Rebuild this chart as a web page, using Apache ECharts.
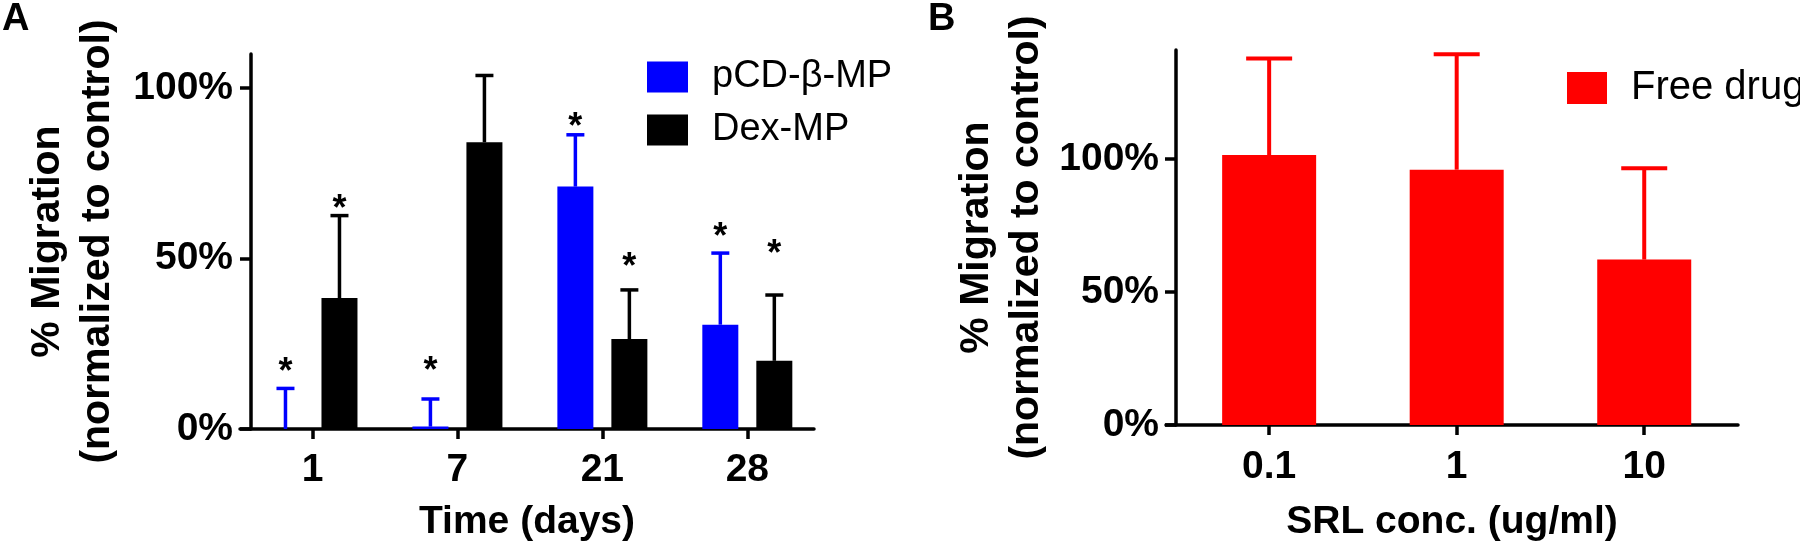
<!DOCTYPE html>
<html>
<head>
<meta charset="utf-8">
<script src="https://cdn.jsdelivr.net/npm/echarts@6/dist/echarts.min.js"></script>
<style>
html,body{margin:0;padding:0;background:#fff;}
#c{width:1800px;height:547px;}
</style>
</head>
<body>
<div id="c"></div>
<script>
// ---------- data ----------
const categoriesA = ['1', '7', '21', '28'];
const namePcd = 'pCD-β-MP';
const nameDex = 'Dex-MP';
const pcdMean = [0, 0.7, 71.1, 30.6];
const pcdErr = [11.9, 8.1, 15.2, 21.0];
const dexMean = [38.4, 84.1, 26.4, 20.0];
const dexErr = [24.2, 19.6, 14.4, 19.3];
const pcdStar = [18.8, 19.1, 90.7, 58.4];
const dexStar = [66.5, null, 49.6, 53.4];
const yTicksA = [0, 50, 100];

const categoriesB = ['0.1', '1', '10'];
const nameFree = 'Free drug';
const freeMean = [101.5, 96.0, 62.2];
const freeErr = [36.3, 43.4, 34.3];
const yTicksB = [0, 50, 100];

// ---------- styling ----------
const FONT = '"Liberation Sans", Arial, Helvetica, sans-serif';
const BAR_A = 36, GAP_A = 18;
const OFF_A = (BAR_A + GAP_A) / 2;
const BAR_B = 94;
const STAR_FS = 36;

function errRender(offsetPx, capW, lw, color) {
  return function (params, api) {
    const x = api.value(0), lo = api.value(1), hi = api.value(2);
    const p0 = api.coord([x, lo]);
    const p1 = api.coord([x, hi]);
    const cx = p0[0] + offsetPx;
    return {
      type: 'group',
      children: [
        { type: 'line', shape: { x1: cx, y1: p0[1], x2: cx, y2: p1[1] }, style: { stroke: color, lineWidth: lw } },
        { type: 'line', shape: { x1: cx - capW / 2, y1: p1[1], x2: cx + capW / 2, y2: p1[1] }, style: { stroke: color, lineWidth: lw } }
      ]
    };
  };
}
function starRender(offsetPx, fs) {
  return function (params, api) {
    const p = api.coord([api.value(0), api.value(1)]);
    return {
      type: 'text',
      x: p[0] + offsetPx,
      y: p[1] + fs * 0.22,
      style: {
        text: '*', fill: '#000', fontSize: fs, fontFamily: FONT, fontWeight: 'bold',
        align: 'center', verticalAlign: 'middle',
        textAlign: 'center', textVerticalAlign: 'middle'
      }
    };
  };
}

const errDataPcd = pcdMean.map((m, i) => [i, m, m + pcdErr[i]]);
const errDataDex = dexMean.map((m, i) => [i, m, m + dexErr[i]]);
const errDataFree = freeMean.map((m, i) => [i, m, m + freeErr[i]]);
const starDataPcd = pcdStar.map((s, i) => [i, s]).filter(d => d[1] != null);
const starDataDex = dexStar.map((s, i) => [i, s]).filter(d => d[1] != null);

const axisLineStyle = { color: '#000', width: 3.5 };
const tickLabel = { color: '#000', fontSize: 39, fontWeight: 'bold', fontFamily: FONT };
const axisTitle = { color: '#000', fontSize: 39, fontWeight: 'bold', fontFamily: FONT };
const yTitle = { color: '#000', fontSize: 41, fontWeight: 'bold', fontFamily: FONT, lineHeight: 50 };
const panelLetter = { fontSize: 38, fontWeight: 'bold', fontFamily: FONT, color: '#000' };

const chart = echarts.init(document.getElementById('c'), null, { renderer: 'canvas' });
chart.setOption({
  animation: false,
  backgroundColor: '#fff',
  title: [
    { text: 'A', left: 2, top: 1, padding: 0, textStyle: panelLetter },
    { text: 'B', left: 928, top: 1, padding: 0, textStyle: panelLetter }
  ],
  legend: [
    {
      data: [namePcd, nameDex], orient: 'vertical', left: 647, top: 58, padding: 0,
      itemWidth: 41, itemHeight: 31, itemGap: 15, icon: 'rect',
      textStyle: { fontSize: 38, fontFamily: FONT, color: '#000', lineHeight: 38, padding: [0, 0, 0, 19] }
    },
    {
      data: [nameFree], orient: 'vertical', left: 1567, top: 68, padding: 0,
      itemWidth: 40, itemHeight: 32, icon: 'rect',
      textStyle: { fontSize: 40, fontFamily: FONT, color: '#000', lineHeight: 40, padding: [0, 0, 0, 19] }
    }
  ],
  grid: [
    { left: 240, top: 54, width: 574, height: 376 },
    { left: 1166, top: 50, width: 572, height: 377 }
  ],
  xAxis: [
    {
      gridIndex: 0, type: 'value', min: -0.5, max: 3.46,
      splitLine: { show: false },
      axisLine: { show: true, onZero: false, lineStyle: axisLineStyle },
      axisTick: { show: true, length: 10, lineStyle: { color: '#000', width: 3.5 }, customValues: [0, 1, 2, 3] },
      axisLabel: Object.assign({ margin: 22, customValues: [0, 1, 2, 3], formatter: v => categoriesA[Math.round(v)] }, tickLabel),
      name: 'Time (days)', nameLocation: 'middle', nameGap: 74, nameTextStyle: axisTitle
    },
    {
      gridIndex: 1, type: 'value', min: -0.55, max: 2.5,
      splitLine: { show: false },
      axisLine: { show: true, onZero: false, lineStyle: axisLineStyle },
      axisTick: { show: true, length: 10, lineStyle: { color: '#000', width: 3.5 }, customValues: [0, 1, 2] },
      axisLabel: Object.assign({ margin: 23, customValues: [0, 1, 2], formatter: v => categoriesB[Math.round(v)] }, tickLabel),
      name: 'SRL conc. (ug/ml)', nameLocation: 'middle', nameGap: 78, nameTextStyle: axisTitle
    }
  ],
  yAxis: [
    {
      gridIndex: 0, type: 'value', min: 0, max: 110, offset: -11,
      splitLine: { show: false },
      axisLine: { show: true, onZero: false, lineStyle: axisLineStyle },
      axisTick: { show: true, length: 11, lineStyle: { color: '#000', width: 3.5 }, customValues: yTicksA },
      axisLabel: Object.assign({ margin: 18, customValues: yTicksA, formatter: v => v + '%' }, tickLabel),
      name: '% Migration\n(normalized to control)', nameLocation: 'middle', nameGap: 128, nameTextStyle: yTitle
    },
    {
      gridIndex: 1, type: 'value', min: 0, max: 141, offset: -10,
      splitLine: { show: false },
      axisLine: { show: true, onZero: false, lineStyle: axisLineStyle },
      axisTick: { show: true, length: 11, lineStyle: { color: '#000', width: 3.5 }, customValues: yTicksB },
      axisLabel: Object.assign({ margin: 17, customValues: yTicksB, formatter: v => v + '%' }, tickLabel),
      name: '% Migration\n(normalized to control)', nameLocation: 'middle', nameGap: 124, nameTextStyle: yTitle
    }
  ],
  series: [
    {
      name: namePcd, type: 'bar', xAxisIndex: 0, yAxisIndex: 0,
      barWidth: BAR_A, barGap: (GAP_A / BAR_A * 100) + '%',
      itemStyle: { color: '#0000ff' },
      data: pcdMean.map((v, i) => [i, v])
    },
    {
      name: nameDex, type: 'bar', xAxisIndex: 0, yAxisIndex: 0,
      barWidth: BAR_A, barGap: (GAP_A / BAR_A * 100) + '%',
      itemStyle: { color: '#000000' },
      data: dexMean.map((v, i) => [i, v])
    },
    {
      name: nameFree, type: 'bar', xAxisIndex: 1, yAxisIndex: 1,
      barWidth: BAR_B,
      itemStyle: { color: '#ff0000' },
      data: freeMean.map((v, i) => [i, v])
    },
    {
      type: 'custom', name: 'errPcd', xAxisIndex: 0, yAxisIndex: 0,
      renderItem: errRender(-OFF_A, 18, 3.5, '#0000ff'), encode: { x: 0, y: [1, 2] }, data: errDataPcd, z: 3
    },
    {
      type: 'custom', name: 'errDex', xAxisIndex: 0, yAxisIndex: 0,
      renderItem: errRender(OFF_A, 18, 3.5, '#000000'), encode: { x: 0, y: [1, 2] }, data: errDataDex, z: 3
    },
    {
      type: 'custom', name: 'errFree', xAxisIndex: 1, yAxisIndex: 1,
      renderItem: errRender(0, 46, 4, '#ff0000'), encode: { x: 0, y: [1, 2] }, data: errDataFree, z: 3
    },
    {
      type: 'custom', name: 'starPcd', xAxisIndex: 0, yAxisIndex: 0,
      renderItem: starRender(-OFF_A, STAR_FS), encode: { x: 0, y: 1 }, data: starDataPcd, z: 4
    },
    {
      type: 'custom', name: 'starDex', xAxisIndex: 0, yAxisIndex: 0,
      renderItem: starRender(OFF_A, STAR_FS), encode: { x: 0, y: 1 }, data: starDataDex, z: 4
    }
  ]
});
</script>
</body>
</html>
